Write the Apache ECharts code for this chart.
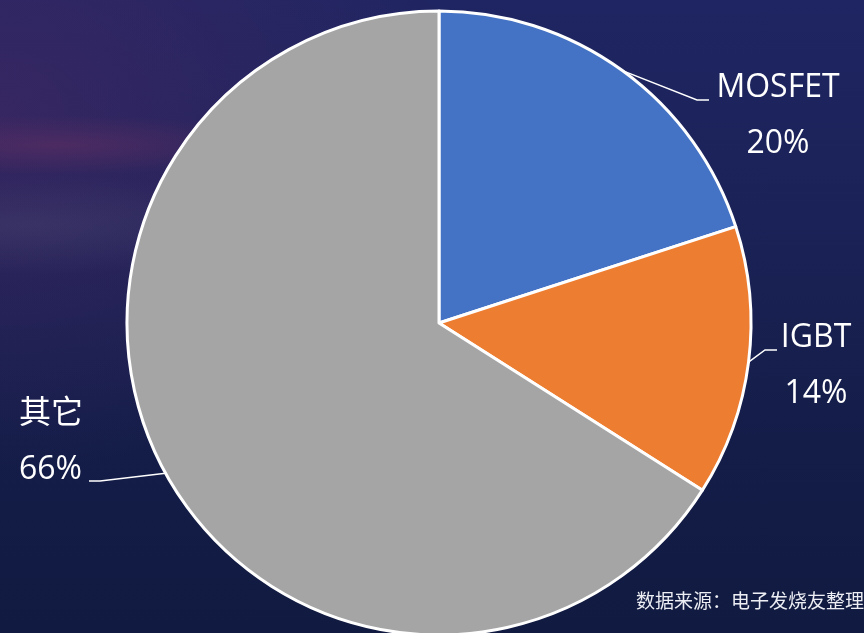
<!DOCTYPE html>
<html>
<head>
<meta charset="utf-8">
<script src="https://cdn.jsdelivr.net/npm/echarts@6/dist/echarts.min.js"></script>
<style>
  html, body { margin: 0; padding: 0; }
  body {
    width: 864px; height: 633px; overflow: hidden;
    background:
      radial-gradient(ellipse 240px 30px at 60px 145px, rgba(115,50,100,0.4), rgba(115,50,100,0) 100%),
      radial-gradient(ellipse 280px 50px at 30px 225px, rgba(100,100,130,0.22), rgba(100,100,130,0) 100%),
      radial-gradient(ellipse 460px 360px at 0px 110px, rgba(65,40,100,0.7), rgba(65,40,100,0) 100%),
      linear-gradient(180deg, #1f2562 0%, #1b2257 35%, #141d48 70%, #111a40 100%);
  }
  #chart { width: 864px; height: 633px; }
</style>
</head>
<body>
<div id="chart"></div>
<script>
// Market share by device type
const categories = ['MOSFET', 'IGBT', '其它'];
const shares = [20, 14, 66];
const sliceColors = ['#4472C4', '#ED7D31', '#A5A5A5'];
const sourceNote = '数据来源：电子发烧友整理';

// Where each label block sits, and how its leader line bends toward it
const labelSpots = [
  { x: 778, y: 116, align: 'center', elbow: [697, 100], end: [709, 100] },
  { x: 816, y: 366, align: 'center', elbow: [765, 350], end: [777, 350] },
  { x: 19,  y: 442, align: 'left',   elbow: [100, 481], end: [89, 481] }
];

const chart = echarts.init(document.getElementById('chart'), null, { renderer: 'canvas' });

chart.setOption({
  backgroundColor: 'transparent',
  animation: false,
  series: [{
    type: 'pie',
    center: [439, 323],
    radius: 312,
    startAngle: 90,
    clockwise: true,
    avoidLabelOverlap: false,
    data: categories.map((name, i) => ({
      name: name,
      value: shares[i],
      itemStyle: { color: sliceColors[i] }
    })),
    itemStyle: { borderColor: '#ffffff', borderWidth: 3 },
    label: {
      show: true,
      position: 'outside',
      formatter: '{b}\n{d}%',
      color: '#ffffff',
      fontSize: 32,
      lineHeight: 56,
      fontFamily: "'Open Sans', 'Noto Sans CJK SC', sans-serif"
    },
    labelLine: {
      show: true,
      lineStyle: { color: '#ffffff', width: 1.5 }
    },
    labelLayout: function (params) {
      const spot = labelSpots[params.dataIndex];
      const start = params.labelLinePoints ? params.labelLinePoints[0] : spot.elbow;
      return {
        x: spot.x,
        y: spot.y,
        align: spot.align,
        verticalAlign: 'middle',
        labelLinePoints: [start, spot.elbow, spot.end]
      };
    }
  }],
  graphic: [{
    type: 'text',
    right: 0,
    top: 591,
    style: {
      text: sourceNote,
      fill: '#eceef4',
      fontSize: 19,
      fontFamily: "'Noto Sans CJK SC', sans-serif"
    }
  }]
});
</script>
</body>
</html>
